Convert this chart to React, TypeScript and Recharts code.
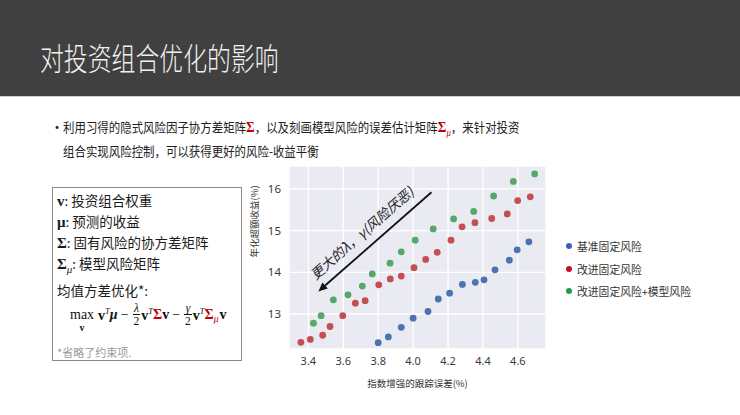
import React from 'react';
import { ScatterChart, Scatter, XAxis, YAxis, CartesianGrid, ReferenceLine } from 'recharts';

// tracking error (%) / annualised excess return (%)
const baseX = [3.8, 3.858, 3.932, 4.0, 4.085, 4.144, 4.209, 4.282, 4.356, 4.406, 4.469, 4.551, 4.596, 4.663];
const baseY = [12.31, 12.45, 12.68, 12.9, 13.06, 13.36, 13.5, 13.71, 13.76, 13.82, 14.06, 14.29, 14.54, 14.73];

const fixedX = [3.357, 3.411, 3.482, 3.524, 3.597, 3.669, 3.725, 3.803, 3.869, 3.932, 4.005, 4.072, 4.138, 4.217, 4.28, 4.354, 4.45, 4.539, 4.599, 4.671];
const fixedY = [12.32, 12.39, 12.49, 12.7, 12.96, 13.26, 13.32, 13.7, 13.84, 13.91, 14.11, 14.31, 14.48, 14.77, 15.09, 15.19, 15.29, 15.4, 15.72, 15.81];

const modelX = [3.429, 3.473, 3.543, 3.627, 3.709, 3.766, 3.868, 3.932, 4.012, 4.115, 4.232, 4.347, 4.461, 4.574, 4.696];
const modelY = [12.78, 12.96, 13.34, 13.46, 13.67, 13.96, 14.22, 14.49, 14.77, 15.04, 15.28, 15.46, 15.83, 16.18, 16.36];

const xTicks = [3.4, 3.6, 3.8, 4.0, 4.2, 4.4, 4.6];
const yTicks = [13, 14, 15, 16];

const seriesNames = ['基准固定风险', '改进固定风险', '改进固定风险+模型风险'];
const arrowFrom = { x: 4.105, y: 15.92 };
const arrowTo = { x: 3.457, y: 13.54 };
const arrowText = '更大的λ，γ(风险厌恶)';

const colors = {
  base: '#4C72B0',
  fixed: '#C44E52',
  model: '#55A868',
};
const legendColors = ['#3D5FC4', '#C0141E', '#1E9E4A'];

const CJK = '"Noto Sans CJK SC", "Noto Sans", sans-serif';
const MATH = '"Liberation Serif", "DejaVu Serif", serif';

const toPoints = (xs: number[], ys: number[]) => xs.map((x, i) => ({ x, y: ys[i] }));

const dot = (color: string) => (p: any) => <circle cx={p.cx} cy={p.cy} r={3.4} fill={color} />;

const Arrow = (p: any) => {
  const { x1, y1, x2, y2 } = p;
  const dx = x1 - x2;
  const dy = y1 - y2;
  const len = Math.sqrt(dx * dx + dy * dy) || 1;
  const ux = dx / len;
  const uy = dy / len;
  const head = 9;
  const half = 4;
  const bx = x2 + ux * head;
  const by = y2 + uy * head;
  const nx = uy;
  const ny = -ux;
  const mx = (x1 + x2) / 2 - ux * 4 + nx * 10;
  const my = (y1 + y2) / 2 - uy * 4 + ny * 10;
  const angle = (Math.atan2(uy, ux) * 180) / Math.PI;
  return (
    <g>
      <line x1={x1} y1={y1} x2={bx} y2={by} stroke="#111" strokeWidth={1.8} />
      <polygon
        points={`${x2},${y2} ${bx - uy * half},${by + ux * half} ${bx + uy * half},${by - ux * half}`}
        fill="#111"
      />
      <text
        x={mx}
        y={my}
        transform={`rotate(${angle}, ${mx}, ${my})`}
        textAnchor="middle"
        fontSize={13.5}
        fontStyle="italic"
        fontFamily={CJK}
        fill="#222"
      >
        {arrowText}
      </text>
    </g>
  );
};

const Frac = ({ top }: { top: string }) => (
  <span style={{ display: 'inline-flex', flexDirection: 'column', alignItems: 'center', lineHeight: '11px', margin: '0 1px', fontSize: 11.5 }}>
    <span style={{ fontStyle: 'italic' }}>{top}</span>
    <span style={{ borderTop: '1px solid #111', padding: '1px 1px 0' }}>2</span>
  </span>
);

const VT = () => (
  <span>
    <b>v</b>
    <sup style={{ fontSize: 8.5, fontStyle: 'italic' }}>T</sup>
  </span>
);

export default function App() {
  const boxLine = (top: number): React.CSSProperties => ({
    position: 'absolute',
    left: 57,
    top: top - 10,
    lineHeight: '20px',
    fontSize: 13.5,
    fontFamily: CJK,
    color: '#1a1a1a',
    whiteSpace: 'nowrap',
  });
  const sym: React.CSSProperties = { fontFamily: MATH, fontWeight: 'bold', fontSize: 15 };
  const red = '#C00000';

  return (
    <div style={{ position: 'absolute', left: 0, top: 0, width: 740, height: 415, background: '#fff', overflow: 'hidden' }}>
      <div style={{ position: 'absolute', left: 0, top: 0, width: 740, height: 96, background: '#404040', borderBottom: '1px solid #cfcfcf' }} />
      <div
        style={{
          position: 'absolute',
          left: 40,
          top: 41,
          fontSize: 31,
          lineHeight: '32px',
          fontWeight: 300,
          fontFamily: CJK,
          color: '#f2f2f2',
          transform: 'scaleX(0.77)',
          transformOrigin: 'left center',
          whiteSpace: 'nowrap',
        }}
      >
        对投资组合优化的影响
      </div>

      <div style={{ position: 'absolute', left: 50, top: 117, fontSize: 14, lineHeight: '18px', fontFamily: CJK, color: '#222' }}>•</div>
      <div
        style={{
          position: 'absolute',
          left: 63,
          top: 118,
          fontSize: 13,
          lineHeight: '18px',
          fontFamily: CJK,
          color: '#222',
          transform: 'scaleX(0.88)',
          transformOrigin: 'left top',
        }}
      >
        <div style={{ whiteSpace: 'nowrap' }}>
          利用习得的隐式风险因子协方差矩阵<span style={{ ...sym, color: red }}>Σ</span>，以及刻画模型风险的误差估计矩阵
          <span style={{ ...sym, color: red }}>Σ</span>
          <sub style={{ color: red, fontFamily: MATH, fontStyle: 'italic', fontSize: 10 }}>μ</sub>，来针对投资
        </div>
        <div style={{ whiteSpace: 'nowrap' }}>组合实现风险控制，可以获得更好的风险-收益平衡</div>
      </div>

      <div style={{ position: 'absolute', left: 52, top: 187, width: 188, height: 172, border: '1px solid #8a8a8a' }} />
      <div style={boxLine(200)}>
        <span style={sym}>v</span>: 投资组合权重
      </div>
      <div style={boxLine(221)}>
        <span style={sym}>μ</span>: 预测的收益
      </div>
      <div style={boxLine(242)}>
        <span style={sym}>Σ</span>: 固有风险的协方差矩阵
      </div>
      <div style={boxLine(263)}>
        <span style={sym}>Σ</span>
        <sub style={{ fontFamily: MATH, fontStyle: 'italic', fontSize: 11 }}>μ</sub>: 模型风险矩阵
      </div>
      <div style={boxLine(290)}>均值方差优化*:</div>
      <div
        style={{
          position: 'absolute',
          left: 70,
          top: 303,
          height: 24,
          display: 'flex',
          alignItems: 'center',
          fontFamily: MATH,
          fontSize: 14,
          color: '#111',
          whiteSpace: 'nowrap',
        }}
      >
        <span style={{ position: 'relative', marginRight: 4, lineHeight: '14px' }}>
          max
          <b style={{ position: 'absolute', left: 0, right: 0, top: 15, textAlign: 'center', fontSize: 10, lineHeight: '10px' }}>v</b>
        </span>
        <VT />
        <b style={{ fontStyle: 'italic' }}>μ</b>
        <span style={{ margin: '0 3px' }}>−</span>
        <Frac top="λ" />
        <VT />
        <b style={{ color: red }}>Σ</b>
        <b>v</b>
        <span style={{ margin: '0 3px' }}>−</span>
        <Frac top="γ" />
        <VT />
        <b style={{ color: red }}>Σ</b>
        <sub style={{ color: red, fontStyle: 'italic', fontSize: 9.5, position: 'relative', top: 4 }}>μ</sub>
        <b style={{ marginLeft: 1 }}>v</b>
      </div>
      <div style={{ ...boxLine(352), fontSize: 11, color: '#9a9a9a' }}>*省略了约束项.</div>

      <div style={{ position: 'absolute', left: 240, top: 160 }}>
        <ScatterChart width={320} height={240} margin={{ top: 6, right: 14, left: 0, bottom: 0 }}>
          <CartesianGrid fill="#EAEAF2" stroke="#FFFFFF" strokeWidth={1.3} />
          <XAxis
            type="number"
            dataKey="x"
            domain={[3.289, 4.761]}
            ticks={xTicks}
            tickFormatter={(v: number) => v.toFixed(1)}
            allowDataOverflow
            axisLine={false}
            tickLine={false}
            height={51}
            tick={{ fill: '#3a3a3a', fontSize: 11, fontFamily: '"Noto Sans", sans-serif' }}
            label={{ value: '指数增强的跟踪误差(%)', position: 'insideBottom', offset: 13, fontSize: 9.5, fill: '#333', fontFamily: CJK }}
          />
          <YAxis
            type="number"
            dataKey="y"
            domain={[12.16, 16.55]}
            ticks={yTicks}
            allowDataOverflow
            axisLine={false}
            tickLine={false}
            width={49}
            tick={{ fill: '#3a3a3a', fontSize: 11.5, fontFamily: '"Noto Sans", sans-serif' }}
            label={{ value: '年化超额收益(%)', angle: -90, position: 'insideLeft', offset: 15, fontSize: 9.5, fill: '#333', fontFamily: CJK }}
          />
          <ReferenceLine segment={[arrowFrom, arrowTo]} shape={Arrow} ifOverflow="visible" />
          <Scatter name={seriesNames[0]} data={toPoints(baseX, baseY)} shape={dot(colors.base)} isAnimationActive={false} />
          <Scatter name={seriesNames[1]} data={toPoints(fixedX, fixedY)} shape={dot(colors.fixed)} isAnimationActive={false} />
          <Scatter name={seriesNames[2]} data={toPoints(modelX, modelY)} shape={dot(colors.model)} isAnimationActive={false} />
        </ScatterChart>
      </div>

      {seriesNames.map((name, i) => (
        <div key={name} style={{ position: 'absolute', left: 566, top: 238 + i * 22.5, height: 16, display: 'flex', alignItems: 'center', whiteSpace: 'nowrap' }}>
          <span style={{ width: 6, height: 6, borderRadius: 3, background: legendColors[i], marginRight: 5 }} />
          <span style={{ fontSize: 10.8, fontFamily: CJK, color: '#333' }}>{name}</span>
        </div>
      ))}
    </div>
  );
}
